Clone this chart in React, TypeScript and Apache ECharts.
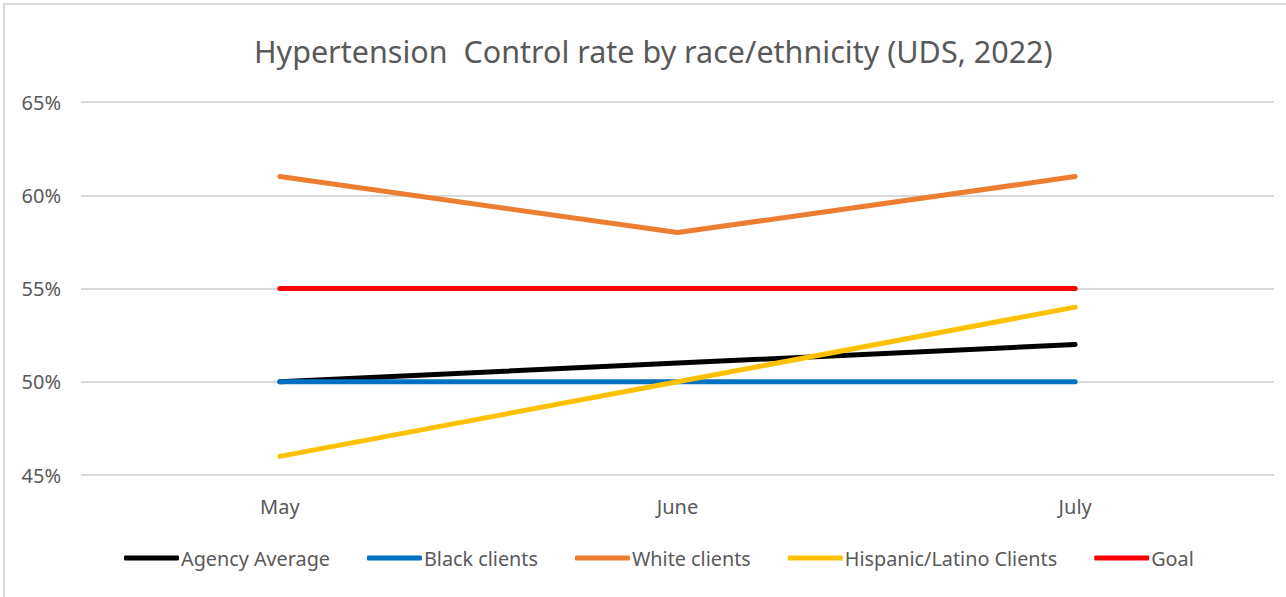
import React, { useEffect, useRef } from "react";
import * as echarts from "echarts";

const months = ["May", "June", "July"];
const agencyAverage = [50, 51, 52];
const blackClients = [50, 50, 50];
const whiteClients = [61, 58, 61];
const hispanicClients = [46, 50, 54];
const goal = [55, 55, 55];

const seriesNames = [
  "Agency Average",
  "Black clients",
  "White clients",
  "Hispanic/Latino Clients",
  "Goal",
];
const seriesColors = ["#000000", "#0070C0", "#ED7D31", "#FFC000", "#FF0000"];
const seriesValues = [agencyAverage, blackClients, whiteClients, hispanicClients, goal];

const FONT = "'Noto Sans', sans-serif";

export default function App() {
  const ref = useRef<HTMLDivElement>(null);

  useEffect(() => {
    if (!ref.current) return;
    const chart = echarts.init(ref.current, undefined, { renderer: "svg" });
    chart.setOption({
      animation: false,
      backgroundColor: "#ffffff",
      textStyle: { fontFamily: FONT },
      graphic: [
        {
          type: "rect",
          shape: { x: 4, y: 4, width: 1300, height: 620 },
          style: { fill: "none", stroke: "#d9d9d9", lineWidth: 2 },
          silent: true,
        },
      ],
      title: {
        text: "Hypertension  Control rate by race/ethnicity (UDS, 2022)",
        left: 249,
        top: 30,
        textStyle: {
          fontFamily: FONT,
          fontSize: 30.5,
          fontWeight: "normal",
          color: "#595959",
        },
      },
      legend: {
        bottom: 24,
        left: 119,
        itemWidth: 55,
        itemHeight: 5,
        itemGap: 37,
        icon: "roundRect",
        textStyle: { fontFamily: FONT, fontSize: 19.8, color: "#595959", padding: [0, 0, 0, -3] },
        data: seriesNames,
      },
      grid: { left: 81, right: 12, top: 102, bottom: 122, containLabel: false },
      xAxis: {
        type: "category",
        data: months,
        boundaryGap: true,
        axisLine: { show: false },
        axisTick: { show: false },
        axisLabel: { color: "#595959", fontSize: 20, fontFamily: FONT, margin: 21 },
      },
      yAxis: {
        type: "value",
        min: 45,
        max: 65,
        interval: 5,
        axisLine: { show: false },
        axisTick: { show: false },
        axisLabel: {
          color: "#595959",
          fontSize: 20,
          fontFamily: FONT,
          margin: 20,
          formatter: (v: number) => `${v}%`,
        },
        splitLine: { lineStyle: { color: "#d9d9d9", width: 2 } },
      },
      series: seriesNames.map((name, i) => ({
        name,
        type: "line",
        data: seriesValues[i],
        showSymbol: false,
        symbol: "none",
        color: seriesColors[i],
        lineStyle: { width: 5, color: seriesColors[i], cap: "round", join: "round" },
        z: 2 + i,
      })),
    });
    return () => chart.dispose();
  }, []);

  return (
    <div
      ref={ref}
      style={{ position: "absolute", left: 0, top: 0, width: 1286, height: 597 }}
    />
  );
}
